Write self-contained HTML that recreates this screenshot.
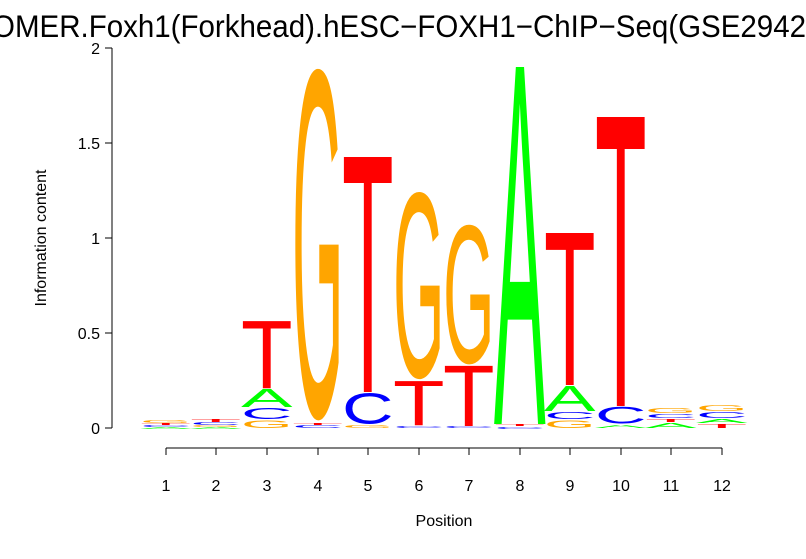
<!DOCTYPE html>
<html><head><meta charset="utf-8"><style>body{margin:0;background:#fff}svg{display:block}</style></head>
<body>
<svg width="806" height="559" viewBox="0 0 806 559" xmlns="http://www.w3.org/2000/svg" font-family="Liberation Sans, sans-serif">
<rect width="806" height="559" fill="#fff"/>
<g transform="translate(0,37) scale(1,1.2)" font-size="26" fill="#000">
<text x="-8" y="0" text-anchor="end">H</text>
<text x="-8" y="0" textLength="814" lengthAdjust="spacingAndGlyphs">OMER.Foxh1(Forkhead).hESC−FOXH1−ChIP−Seq(GSE2942</text>
<text x="806" y="0">2)/Homer</text>
</g>
<g stroke="#000" stroke-width="1" fill="none">
<line x1="112" y1="48" x2="112" y2="428"/>
<line x1="105" y1="428" x2="112" y2="428"/><line x1="105" y1="333" x2="112" y2="333"/><line x1="105" y1="238" x2="112" y2="238"/><line x1="105" y1="143" x2="112" y2="143"/><line x1="105" y1="48" x2="112" y2="48"/>
<line x1="166" y1="448" x2="722" y2="448"/>
</g>
<g stroke="#000" id="xt"></g>
<g font-size="16" text-anchor="end" fill="#000">
<text x="100" y="434">0</text><text x="100" y="339">0.5</text><text x="100" y="244">1</text><text x="100" y="149">1.5</text><text x="100" y="54">2</text>
</g>
<text transform="translate(46,238) rotate(-90)" font-size="16" text-anchor="middle">Information content</text>
<text x="444" y="526" font-size="16" text-anchor="middle">Position</text>
<g id="logo"></g>
<script>
var ns="http://www.w3.org/2000/svg";
var xs=[166,216,267,318,368,419,469,520,570,621,671,722];
var xt=document.getElementById('xt');
var lab=document.querySelector('svg');
xs.forEach(function(x,i){
 var l=document.createElementNS(ns,'line');l.setAttribute('x1',x);l.setAttribute('x2',x);l.setAttribute('y1',448);l.setAttribute('y2',455);xt.appendChild(l);
 var t=document.createElementNS(ns,'text');t.setAttribute('x',x);t.setAttribute('y',491);t.setAttribute('font-size','16');t.setAttribute('text-anchor','middle');t.textContent=(i+1);lab.appendChild(t);
});
var col={A:'#00ff00',C:'#0000ff',G:'#ffa500',T:'#ff0000'};
var data=[
 [['A',427,429],['C',425,427],['T',423,425],['G',420,423]],
 [['A',427,429],['G',425,427],['C',422,425],['T',419,422]],
 [['G',420,428],['C',408,419],['A',389,407],['T',321,388]],
 [['C',425,428],['T',423,425],['G',67,422]],
 [['G',425,428],['C',393,424],['T',157,392]],
 [['C',426,428],['T',381,425],['G',191,380]],
 [['C',426,428],['T',366,426],['G',224,365]],
 [['C',427,429],['T',424,426],['A',67,424]],
 [['G',420,428],['C',412,419],['A',386,411],['T',233,385]],
 [['A',425,428],['C',407,424],['T',117,406]],
 [['A',423,428],['T',419,422],['C',414,418],['G',408,413]],
 [['T',424,428],['A',419,423],['C',412,418],['G',405,411]]
];
var g=document.getElementById('logo');
data.forEach(function(st,i){
 var x0=xs[i]-25,w=50;
 st.forEach(function(s){
  var h=s[2]-s[1];if(h<=0)return;
  var t=document.createElementNS(ns,'text');
  t.setAttribute('x',0);t.setAttribute('y',0);t.setAttribute('font-size','100');
  t.setAttribute('textLength','66');t.setAttribute('lengthAdjust','spacingAndGlyphs');
  t.setAttribute('fill',col[s[0]]);
  var round=(s[0]=='G'||s[0]=='C');
  var ch=round?71.5:68.8, off=round?1.3:0;
  var sy=h/ch;
  t.setAttribute('transform','translate('+(x0-1)+','+(s[2]-off*sy)+') scale('+(w/64)+','+sy+')');
  t.textContent=s[0];g.appendChild(t);
 });
});
</script>
</svg>
</body></html>
